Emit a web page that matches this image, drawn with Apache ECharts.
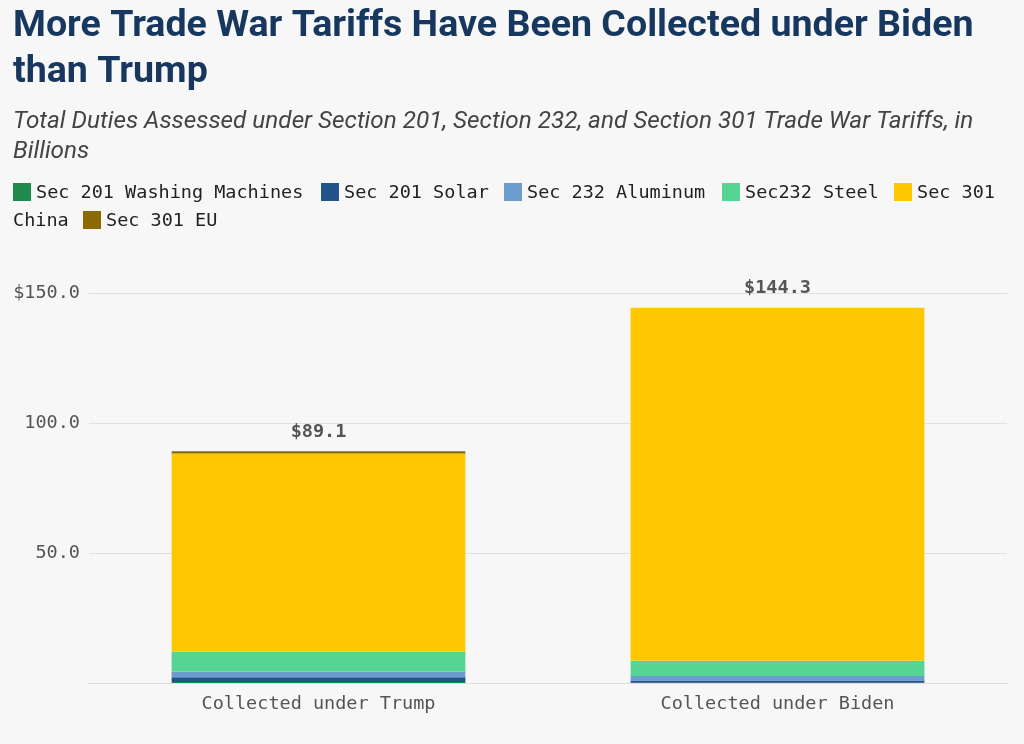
<!DOCTYPE html>
<html><head><meta charset="utf-8">
<script src="https://cdn.jsdelivr.net/npm/echarts@6/dist/echarts.min.js"></script>
<style>html,body{margin:0;padding:0;background:#f7f7f7;}#c{width:1024px;height:744px;}</style>
</head><body><div id="c"></div>
<script>
const categories = ['Collected under Trump', 'Collected under Biden'];
const seriesNames = ['Sec 201 Washing Machines', 'Sec 201 Solar', 'Sec 232 Aluminum', 'Sec232 Steel', 'Sec 301 China', 'Sec 301 EU'];
const washing = [0.4, 0.1];
const solar = [1.8, 0.9];
const aluminum = [2.2, 1.7];
const steel = [7.6, 5.9];
const china = [76.3, 135.7];
const eu = [0.8, 0.0];
const yTicks = [0, 50, 100, 150];

const seriesData = [washing, solar, aluminum, steel, china, eu];
const colors = ['#1f8a4c', '#22538a', '#6a9dce', '#56d592', '#ffc700', '#8c6a00'];
const totals = categories.map((c, i) => seriesData.reduce((s, arr) => s + arr[i], 0));

const mono = '"DejaVu Sans Mono", "Liberation Mono", monospace';
const FS = 18.5;

// legend layout (positions only)
const legendItems = [
  {sq: [13, 183], tx: [36, 193], name: seriesNames[0], c: 0},
  {sq: [321, 183], tx: [344, 193], name: seriesNames[1], c: 1},
  {sq: [504, 183], tx: [527, 193], name: seriesNames[2], c: 2},
  {sq: [722, 183], tx: [745, 193], name: seriesNames[3], c: 3},
  {sq: [894, 183], tx: [917, 193], name: 'Sec 301', c: 4},
  {sq: null, tx: [13, 221], name: 'China', c: 4},
  {sq: [83, 211], tx: [106, 221], name: seriesNames[5], c: 5}
];
const graphics = [];
legendItems.forEach(it => {
  if (it.sq) graphics.push({type: 'rect', shape: {x: it.sq[0], y: it.sq[1], width: 18, height: 18}, style: {fill: colors[it.c]}});
  graphics.push({type: 'text', x: it.tx[0], y: it.tx[1], style: {text: it.name, fontFamily: mono, fontSize: FS, fill: '#222', textVerticalAlign: 'middle'}});
});

const chart = echarts.init(document.getElementById('c'));
chart.setOption({
  backgroundColor: '#f7f7f7',
  animation: false,
  title: [
    {text: 'More Trade War Tariffs Have Been Collected under Biden\nthan Trump', left: 13, top: 4, padding: 0,
     textStyle: {fontFamily: 'Roboto', fontWeight: 'bold', fontSize: 37.6, color: '#17375e', lineHeight: 46}},
    {text: 'Total Duties Assessed under Section 201, Section 232, and Section 301 Trade War Tariffs, in\nBillions', left: 13, top: 107, padding: 0,
     textStyle: {fontFamily: 'Roboto', fontStyle: 'italic', fontWeight: 'normal', fontSize: 24.3, color: '#444', lineHeight: 30}}
  ],
  graphic: graphics,
  grid: {left: 89, right: 17, top: 293, bottom: 61, containLabel: false},
  xAxis: {
    type: 'category', data: categories,
    axisLine: {lineStyle: {color: '#dcdcdc'}}, axisTick: {show: false},
    axisLabel: {fontFamily: mono, fontSize: FS, color: '#555', margin: 12}
  },
  yAxis: {
    type: 'value', min: yTicks[0], max: yTicks[yTicks.length - 1], interval: 50,
    axisLine: {show: false}, axisTick: {show: false},
    splitLine: {lineStyle: {color: '#e0e0e0'}},
    axisLabel: {fontFamily: mono, fontSize: FS, color: '#555', margin: 9,
      formatter: v => v === 0 ? '' : (v === 150 ? '$' : '') + v.toFixed(1)}
  },
  series: seriesNames.map((n, k) => ({
    name: n, type: 'bar', stack: 'total', data: seriesData[k], barWidth: '64%',
    itemStyle: {color: colors[k]},
    label: k === seriesNames.length - 1 ? {
      show: true, position: 'top', distance: 10,
      fontFamily: mono, fontSize: FS, fontWeight: 'bold', color: '#555',
      formatter: p => '$' + totals[p.dataIndex].toFixed(1)
    } : {show: false}
  }))
});
</script></body></html>
